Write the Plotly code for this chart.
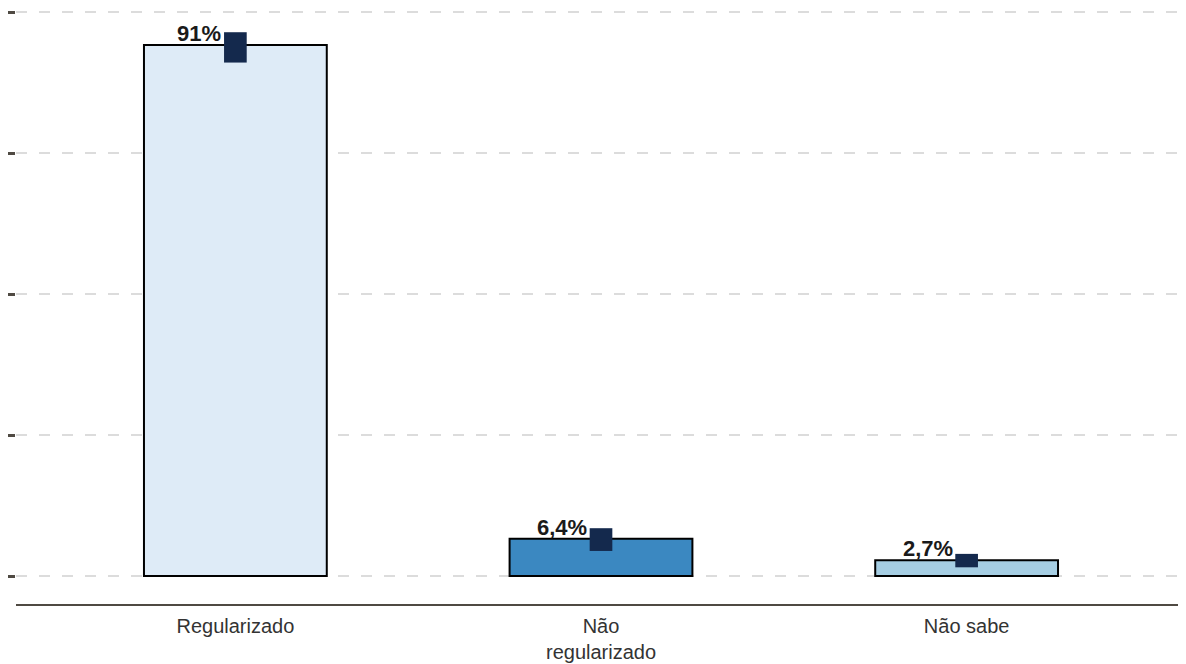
import plotly.graph_objects as go

categories = ["Regularizado", "Não<br>regularizado", "Não sabe"]
values = [91.0, 6.4, 2.7]
labels = ["91%", "6,4%", "2,7%"]
ci_low = [88.0, 4.3, 1.5]
ci_high = [93.2, 8.2, 3.8]
bar_colors = ["#deebf7", "#3b88c1", "#a6cee3"]
grid_vals = [0, 24.165, 48.33, 72.495, 96.66]

fig = go.Figure()
fig.add_trace(go.Bar(
    x=categories, y=values, width=0.5,
    marker=dict(color=bar_colors, line=dict(color="#000000", width=2)),
    hoverinfo="skip", showlegend=False,
))
fig.add_trace(go.Bar(
    x=categories, y=[h - l for h, l in zip(ci_high, ci_low)], base=ci_low,
    width=0.062,
    marker=dict(color="#14294d", line=dict(width=0)),
    hoverinfo="skip", showlegend=False,
))

for c, v, t in zip(categories, values, labels):
    fig.add_annotation(
        x=c, y=v, xref="x", yref="y", text=f"<b>{t}</b>", showarrow=False,
        xanchor="right", yanchor="bottom", xshift=-12, yshift=-3,
        font=dict(family="Liberation Sans, Arial, sans-serif", size=22, color="#1a1a1a"),
    )

fig.update_layout(
    width=1178, height=656,
    margin=dict(l=8, r=0, t=0, b=60),
    paper_bgcolor="white", plot_bgcolor="white",
    barmode="overlay",
    font=dict(family="Liberation Sans, Arial, sans-serif", size=21, color="#333333"),
)
fig.update_xaxes(
    range=[-0.6, 2.6], showline=True, linecolor="#4f4a43", linewidth=2,
    ticks="", showgrid=False, tickfont=dict(size=20, color="#333333"),
    automargin=False, ticklabelstandoff=3,
)
fig.update_yaxes(
    range=[-4.79, 97.35], tickvals=grid_vals, showticklabels=False,
    ticks="outside", ticklen=8, tickwidth=3, tickcolor="#4f4a43",
    showgrid=True, gridcolor="#dcdcdc", gridwidth=2, griddash="11px,12px",
    zeroline=False, showline=False, automargin=False,
)
fig.write_html("out.html")
